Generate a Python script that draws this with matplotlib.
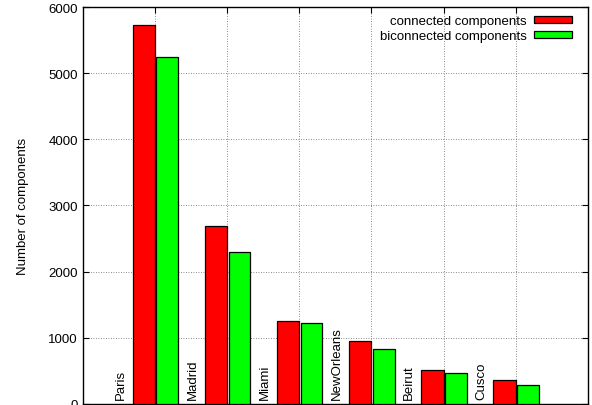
import matplotlib.pyplot as plt
import numpy as np

plt.rcParams['font.family'] = ['Liberation Sans', 'DejaVu Sans']

cities = ['Paris', 'Madrid', 'Miami', 'NewOrleans', 'Beirut', 'Cusco']
connected = [5725, 2690, 1245, 955, 510, 365]
biconnected = [5245, 2295, 1225, 835, 460, 280]

fig = plt.figure(figsize=(5.92, 4.06), dpi=100)
ax = fig.add_axes([0.140, 0.003, 0.853, 0.977])

x = np.arange(1, len(cities) + 1)
w = 0.31
ax.bar(x - w, connected, width=w, align='edge', color='#ff0000',
       edgecolor='black', linewidth=0.9, label='connected components', zorder=3)
ax.bar(x + 0.02, biconnected, width=w - 0.01, align='edge', color='#00ff00',
       edgecolor='black', linewidth=0.9, label='biconnected components', zorder=3)

for xi, name in zip(x, cities):
    ax.text(xi - 0.48, 70, name, rotation=90, ha='center', va='bottom',
            fontsize=9.5, zorder=4)

ax.set_xlim(0, 7)
ax.set_ylim(0, 6000)
ax.set_xticks(x)
ax.set_xticklabels([])
ax.set_yticks(range(0, 6001, 1000))
ax.tick_params(axis='both', direction='in', top=True, right=True,
               labelsize=9.5, length=4)
ax.set_ylabel('Number of components', fontsize=9.5, labelpad=14)
ax.grid(True, linestyle=(0, (1, 2)), color='#666666', linewidth=0.6, zorder=0)
for s in ax.spines.values():
    s.set_linewidth(1.0)

ax.legend(loc='upper right', bbox_to_anchor=(0.979, 0.994), borderaxespad=0.0,
          frameon=False, markerfirst=False,
          fontsize=9.5, handlelength=2.9, handleheight=0.45,
          labelspacing=0.25, handletextpad=0.55)

plt.savefig('out.png', dpi=100)
